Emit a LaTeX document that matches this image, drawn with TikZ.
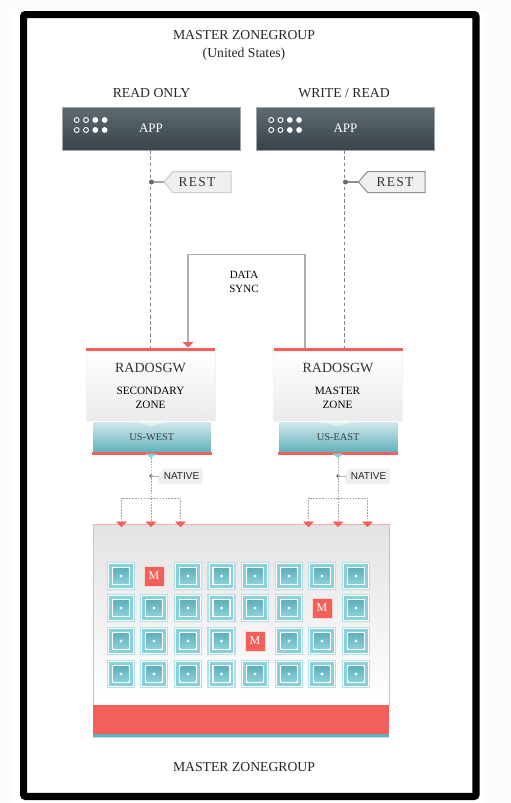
\documentclass[tikz,border=0pt]{standalone}
\usepackage{fontspec}
\setmainfont{Liberation Serif}
\newfontfamily\labelsans{Liberation Sans}
\usetikzlibrary{arrows.meta,calc}
\definecolor{coral}{HTML}{F2605A}
\definecolor{teal1}{HTML}{5FB0BD}
\definecolor{teal2}{HTML}{8AD0DB}
\definecolor{slate}{HTML}{5F6B73}
\definecolor{slatedark}{HTML}{38434B}
\definecolor{connector}{HTML}{7C858B}
\definecolor{tagfill}{HTML}{EEF0EF}
\tikzset{
  x=1pt,y=-1pt,
  caption/.style={font=\fontsize{13.7}{18}\selectfont,text=black!85,inner sep=0,align=center},
  appbox/.style={minimum width=178,minimum height=43,inner sep=0,draw=slate!60,line width=.6,top color=slate,bottom color=slatedark,text=white,font=\fontsize{13}{15}\selectfont},
  gwbox/.style={minimum width=129,minimum height=70.5,inner sep=0,outer sep=0,draw=black!5,line width=.6,top color=white,middle color=white,bottom color=black!8},
  zonebox/.style={minimum width=119.5,minimum height=31,inner sep=0,outer sep=0,top color=teal1!28,bottom color=teal1,draw=white,line width=.5,font=\fontsize{10.4}{12}\selectfont,text=black!75},
  clusterbox/.style={minimum width=296,minimum height=180.5,inner sep=0,outer sep=0,draw=coral!50,line width=1,top color=black!11,bottom color=white},
  dashline/.style={connector,line width=1.3,dash pattern=on 3.5pt off 2.6pt},
  dotline/.style={black!36,line width=.9,dash pattern=on 1.6pt off 1.3pt},
  dotarrow/.style={dotline,-{Triangle[length=5.5pt,width=11pt,color=coral,fill=coral]}},
  syncline/.style={black!32,line width=1.1,-{Triangle[length=5.5pt,width=11pt,color=coral,fill=coral]}},
  mtile/.style={minimum size=20,inner sep=0,fill=coral,draw=white!75!coral,line width=.6,text=white,font=\fontsize{12}{12}\selectfont},
  resttext/.style={inner sep=0,font=\fontsize{13.5}{15}\selectfont\addfontfeature{LetterSpace=9},text=black!80},
  nativetext/.style={inner sep=0,font=\labelsans\fontsize{10}{12}\selectfont,text=black!85},
  dotmark/.style={circle,fill=slate,inner sep=0,minimum size=5},
  smalldot/.style={circle,fill=slate,inner sep=0,minimum size=3.6}
}
\newcommand{\appDots}[2]{%
  \foreach \i in {0,1}{%
    \draw[white,line width=.9] (#1+\i*9.3,#2) circle (2.5);
    \draw[white,line width=.9] (#1+\i*9.3,#2+10) circle (2.5);
    \fill[white] (#1+18.6+\i*9.3,#2) circle (2.9);
    \fill[white] (#1+18.6+\i*9.3,#2+10) circle (2.9);
  }}
\newcommand{\cell}[2]{%
  \begin{scope}[shift={(#1,#2)}]
    \fill[teal2!65] (-14.2,-14.2) rectangle (14.2,14.2);
    \fill[white] (-12.7,-12.7) rectangle (12.7,12.7);
    \fill[teal2] (-11.9,-11.9) rectangle (11.9,11.9);
    \fill[white] (-9.4,-9.4) rectangle (9.4,9.4);
    \shade[top color=teal1,bottom color=teal2] (-7.6,-7.6) rectangle (7.6,7.6);
    \fill[white] (0,0) circle (1.6);
  \end{scope}}
\begin{document}
\begin{tikzpicture}
\useasboundingbox (0,0) rectangle (511,803);
\fill[black!1] (0,0) rectangle (511,803);
\fill[white] (13,11) rectangle (486,803);
\fill[white] (27,18) rectangle (473,793);
\draw[black,line width=7.2,rounded corners=2] (23.6,14.6) rectangle (476,796.4);

\node[caption] (title) at (244,45) {MASTER ZONEGROUP\\(United States)};
\node[caption] (readonly) at (151.5,93.5) {READ ONLY};
\node[caption] (writeread) at (344,93.5) {WRITE / READ};

\node[appbox] (appL) at (151,128.5) {APP};
\node[appbox] (appR) at (345.5,128.5) {APP};
\appDots{76.7}{120}
\appDots{271.2}{120}

% gateway and zone boxes
\node[gwbox,anchor=north] (gwL) at (150.5,351) {};
\node[gwbox,anchor=north] (gwR) at (338,351) {};
\node[zonebox] (zoneL) at (151.8,437) {US-WEST};
\node[zonebox] (zoneR) at (338.2,437) {US-EAST};
\foreach \n/\m/\r in {L/gwL/zoneL,R/gwR/zoneR}{
  \fill[coral] (\m.north west) ++(0,-3) rectangle (\m.north east);
  \fill[coral] (\r.south west) ++(0,-.6) rectangle ([yshift=-2.2pt]\r.south east);
  % fold of the envelope
  \fill[white,opacity=.4] ([xshift=-22pt]\m.south) -- ([xshift=22pt]\m.south) -- ([yshift=-4pt]\m.south) -- cycle;
  \draw[black!6,line width=.6] ([yshift=15pt]\m.south west) -- ([yshift=-4pt]\m.south) -- ([yshift=15pt]\m.south east);
}
\node[inner sep=0,font=\fontsize{14}{16}\selectfont,text=black!80] (gwTitleL) at (150.5,368) {RADOSGW};
\node[inner sep=0,font=\fontsize{14}{16}\selectfont,text=black!80] (gwTitleR) at (338,368) {RADOSGW};
\node[inner sep=0,align=center,font=\fontsize{11.2}{14}\selectfont,text=black] (secL) at (150.5,397.5) {SECONDARY\\ZONE};
\node[inner sep=0,align=center,font=\fontsize{11.2}{14}\selectfont,text=black] (secR) at (337.5,397.5) {MASTER\\ZONE};
\fill[teal2] (145.5,453.5) -- (157,453.5) -- (151,458) -- cycle;
\fill[teal2] (332,453.5) -- (343.5,453.5) -- (338,458) -- cycle;

% app to gateway
\draw[dashline] ([xshift=-.5pt]appL.south) -- ([xshift=-.5pt,yshift=3pt]appL.south |- gwL.north);
\draw[dashline] ([xshift=-1pt]appR.south) -- ([xshift=-1pt,yshift=3pt]appR.south |- gwR.north);

% REST tags
\draw[black!20,fill=tagfill,line width=1] (164,182) coordinate (restL) -- (173,171.5) -- (231,171.5) -- (231,192.5) -- (173,192.5) -- cycle;
\draw[slate!75,fill=tagfill,line width=1] (358.5,182) coordinate (restR) -- (367.5,171.5) -- (425,171.5) -- (425,192.5) -- (367.5,192.5) -- cycle;
\node[resttext] (restLabelL) at (197,182) {REST};
\node[resttext] (restLabelR) at (395,182) {REST};
\node[dotmark] (dotL) at (151.5,182) {};
\node[dotmark] (dotR) at (345.5,182) {};
\draw[black!35,line width=1.1] (dotL) -- (restL);
\draw[black!45,line width=1.1] (dotR) -- (restR);

% cluster
\node[clusterbox,anchor=north west] (cluster) at (93.5,524.5) {};
\fill[coral] (93,705) rectangle (389,733.5);
\fill[teal1] (93,733.5) rectangle (389,736.5);
\fill[teal2!60] (93,736.5) rectangle (389,737.5);

% data sync
\node[inner sep=0,align=center,font=\fontsize{11}{14}\selectfont,text=black] (sync) at (244,282) {DATA\\SYNC};
\coordinate (syncTop) at (244,254.5);
\draw[syncline] ([xshift=-33pt,yshift=3pt]gwR.north) |- (syncTop) -| ([xshift=37.5pt,yshift=3.5pt]gwL.north);

% native links
\foreach \x/\n/\z in {151/L/zoneL,338/R/zoneR}{
  \coordinate (split\n) at (\x,498);
  \coordinate (in\n a) at (\x-29.5,527);
  \coordinate (in\n b) at (\x,527);
  \coordinate (in\n c) at (\x+29.5,527);
  \node[smalldot] (dot\n) at (\x,476) {};
  \fill[tagfill] (\x+7,476) -- (\x+12,468.5) -- (\x+51.5,468.5) -- (\x+51.5,483.5) -- (\x+7,483.5) -- cycle;
  \node[nativetext] (native\n) at (\x+30.5,476.5) {NATIVE};
  \draw[black!30,line width=.9] (dot\n) -- (\x+8,476);
  \draw[dotarrow] (\x,458) -- (in\n b);
  \draw[dotarrow] (split\n) -| (in\n a);
  \draw[dotarrow] (split\n) -| (in\n c);
}

% OSD grid
\foreach \y/\xs in {576/{121,188,221.5,255,289,322,356},608/{121,154,188,221.5,255,289,356},641/{121,154,188,221.5,289,322,356},674/{121,154,188,221.5,255,289,322,356}}{
  \foreach \x in \xs {\cell{\x}{\y}}
}
\node[mtile] (m1) at (154,576) {M};
\node[mtile] (m2) at (322,608) {M};
\node[mtile] (m3) at (255,641) {M};

\node[caption] (footer) at (244,767.5) {MASTER ZONEGROUP};
\end{tikzpicture}
\end{document}
